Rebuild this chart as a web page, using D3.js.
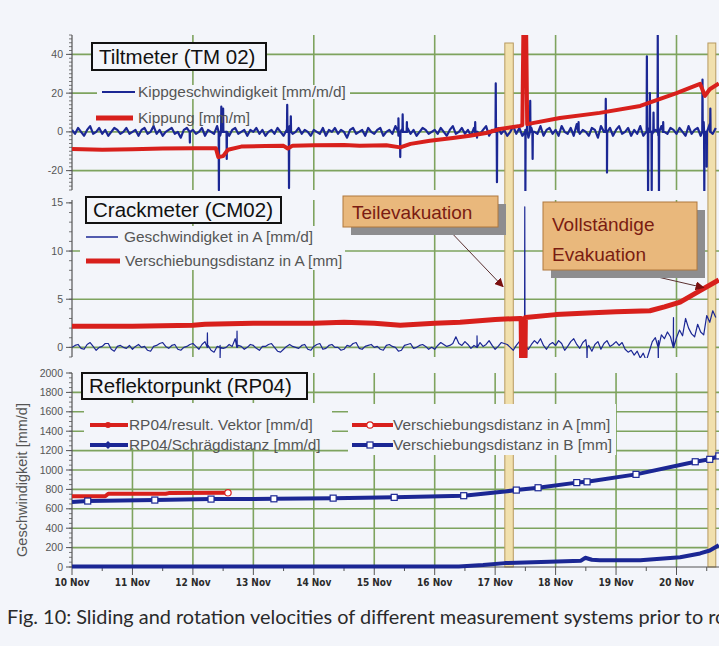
<!DOCTYPE html>
<html><head><meta charset="utf-8">
<script src="https://cdn.jsdelivr.net/npm/d3@7"></script>
<style>body{margin:0;background:#f3f5fa;} svg{display:block;}</style>
</head><body><svg id="c" width="719" height="646"></svg>
<script>
// ---------- DATA ----------
const dayLabels = ["10 Nov","11 Nov","12 Nov","13 Nov","14 Nov","15 Nov","16 Nov","17 Nov","18 Nov","19 Nov","20 Nov","21 Nov"];
const noiseStep = 0.05; // days between samples of the noisy velocity series

// Tiltmeter TM02 - Kippgeschwindigkeit [mm/m/d] (background, sampled every 0.05 d)
const tiltVel = [
  1,-1,2,0,-2,1,3,-1,0,2,-1,1,-2,0,2,1,-1,0,2,-1,
  0,1,-2,1,2,-1,0,3,-1,1,-2,0,1,2,-1,0,-3,1,2,0,
  1,-1,0,2,-2,1,0,-1,3,-2,1,0,-2,1,2,-1,0,1,-2,1,
  0,2,-1,1,-2,0,1,-1,2,0,-2,1,3,-1,0,2,-1,1,0,-2,
  1,0,-1,2,-2,1,0,2,-1,1,0,-3,1,2,-1,0,1,-2,2,0,
  -1,1,2,-2,0,1,-1,3,-2,1,0,2,-1,1,-2,0,2,1,-1,0,
  1,-1,2,0,-2,1,3,-1,0,2,-1,1,-2,2,0,-1,1,3,-2,1,
  0,2,-1,1,-2,0,3,-1,2,-2,1,-3,2,0,-1,3,-2,1,2,-1,
  1,-2,3,0,-1,2,-2,4,-1,1,0,-2,2,1,-3,3,0,-1,2,-2,
  1,3,-1,0,2,-2,1,-1,3,-2,0,2,-1,1,-2,3,0,-1,2,1,
  -1,2,0,-2,3,-1,1,2,-2,5,-3,4,-1,2];
// spikes of the tilt velocity [day, value]
const tiltSpikeDays = [1.95,2.43,2.47,2.50,2.56,3.56,3.59,3.62,5.40,5.43,5.47,5.54,6.67,6.70,7.01,7.03,7.50,7.53,7.58,7.62,8.38,8.83,8.85,9.51,9.53,9.56,9.59,9.62,9.69,9.71,9.78,10.43,10.46,10.50,10.56];
const tiltSpikeVals = [-5.5,-30,13,12,-14,14,-29,8,7,-13,9,5,5,-3,25,-26,-32,8,16,-14,5,17,-21,39,-32,20,-30,10,50,-32,5,27,-32,-18,12];
// Kippung [mm/m]
const tiltDays = [0,0.5,1.0,1.5,2.0,2.38,2.42,2.5,2.58,2.8,3.2,3.5,3.57,3.65,4.0,4.5,4.76,5.2,5.43,5.6,5.92,6.3,6.58,6.85,7.08,7.41,7.45,7.47,7.51,7.53,8.07,8.73,9.4,9.73,10.0,10.22,10.39,10.47,10.55,10.7];
const tiltVals = [-8.8,-9.2,-9.0,-8.6,-8.5,-8.4,-13,-12.5,-9.2,-7.6,-7.3,-7.2,-8.6,-7.1,-6.9,-6.8,-7.2,-6.9,-8.0,-6.2,-4.6,-3.2,-2.0,-0.6,1.5,3.1,3.5,60,60,4.0,7.2,9.8,13.4,17,20,22.7,24.8,18.6,22,25];

// Crackmeter CM02 - Geschwindigkeit in A [mm/d] (every 0.05 d)
const crackVel = [
  0,0.2,0.3,-0.1,-0.2,0.3,0.5,0.1,-0.3,0.0,0.1,0.4,0.4,-0.2,-0.4,0.1,0.2,0.0,-0.1,0.2,
  -0.2,0.1,0.3,0.0,0.1,-0.3,-0.4,0.1,0.2,0.4,0.5,0.1,-0.1,0.2,0.3,-0.2,-0.3,0.0,0.1,0.3,
  0.4,0.1,-0.2,0.3,0.6,0.2,-0.3,-0.5,0.1,0.2,-0.1,0.0,0.3,0.1,0.9,0.2,0.1,-0.2,0.0,0.3,
  0.2,-0.1,-0.3,0.1,0.1,0.3,0.4,0.0,-0.4,-0.5,-0.2,0.1,0.3,0.1,0.0,-0.1,0.2,0.3,-0.2,-0.3,
  0.1,0.3,0.4,-0.2,-0.1,0.2,0.3,0.0,0.0,-0.3,-0.2,0.2,0.1,0.4,0.5,-0.1,-0.2,0.1,0.2,0.3,
  0.0,0.1,-0.2,-0.3,0.2,0.3,0.1,0.0,-0.4,-0.3,0.2,0.3,0.4,-0.1,0.0,0.2,0.3,0.1,-0.2,0.0,
  -0.2,0.2,0.5,0.3,0.1,0.2,0.4,1.1,0.4,0.2,0.6,0.3,-0.1,0.2,0.4,0.5,0.1,0.3,0.7,0.2,
  -0.2,0.1,0.5,0.4,0.3,0.0,-0.3,0.2,0.6,0.8,0.1,-0.2,0.3,0.7,0.4,0.9,0.2,-0.2,0.3,0.5,
  0.2,0.7,0.4,-0.3,0.1,0.6,0.9,0.3,-0.1,0.5,0.8,0.2,-0.4,0.3,0.6,-0.2,0.4,0.7,0.1,0.3,
  0.6,0.2,0.5,-0.2,-0.5,-0.3,-0.8,-0.4,-1.1,-0.6,-1.4,-0.4,0.6,1.0,0.7,1.3,0.9,1.6,1.1,1.4,
  1.0,1.8,1.2,3.0,2.0,1.4,1.1,2.4,1.6,1.3,3.3,2.6,3.8,3.1];
const crackSpikeDays = [2.24,2.45,2.73,6.70,7.49,7.52,8.52,9.70,9.95];
const crackSpikeVals = [1.5,-1.1,1.7,1.2,14.6,-1.0,-1.5,-2.0,3.1];
// Verschiebungsdistanz in A [mm]
const crackDays = [0,1,2,2.2,3,4,4.5,5,5.43,6,6.42,7,7.41,7.43,7.44,7.49,7.50,8,8.62,9,9.56,9.8,10.06,10.39,10.7];
const crackVals = [2.2,2.2,2.3,2.4,2.5,2.5,2.6,2.5,2.3,2.5,2.6,2.9,3.0,3.0,-3,-3,3.1,3.4,3.6,3.7,3.8,4.2,4.7,5.9,7.0];

// Reflektorpunkt RP04
const rpVektorDays = [0,0.55,0.6,1.55,1.6,2.58];            // RP04/result. Vektor [mm/d]
const rpVektorVals = [730,730,755,755,762,765];
const rpSchraegDays = [0,6.4,6.8,7.16,7.9,8.42,8.49,8.6,8.73,9.4,10.06,10.39,10.55,10.7]; // RP04/Schrägdistanz [mm/d]
const rpSchraegVals = [5,5,20,40,55,65,95,75,70,70,100,140,170,225];
const rpBDays = [0,0.26,1.37,2.3,3.34,4.32,5.33,6.48,7.16,7.35,7.71,8.35,8.52,9.33,10.31,10.55,10.7]; // Verschiebungsdistanz in B [mm]
const rpBVals = [670,680,690,700,703,710,718,735,778,793,817,870,878,955,1085,1110,1145];
const rpBMarkerIdx = [1,2,3,4,5,6,7,9,10,11,12,13,14,15,16];

// Evacuation periods (days since 10 Nov)
const bandStart = [7.16,10.52];
const bandEnd   = [7.30,10.65];

// ---------- CHART ----------
const svg = d3.select("#c");
const W = 719, H = 646;
const BG = "#f3f5fa", GRID = "#7ea35e", RED = "#d8201c", BLUE = "#1b2794", AX = "#555";
const FONT = "Liberation Sans, Arial, sans-serif";
const LEG = 15.4;

svg.append("rect").attr("width", W).attr("height", H).attr("fill", BG);

const x = d3.scaleLinear().domain([0, 11]).range([72, 72 + 11 * 60.45]);
const panels = {
  top: {y: d3.scaleLinear().domain([-30, 50]).range([190, 35])},
  mid: {y: d3.scaleLinear().domain([-1, 15.3]).range([357, 200])},
  bot: {y: d3.scaleLinear().domain([0, 2000]).range([567, 373])}
};
const defs = svg.append("defs");
function clip(id, y0, y1) {
  defs.append("clipPath").attr("id", id).append("rect")
    .attr("x", 72).attr("y", y0).attr("width", W - 72).attr("height", y1 - y0);
}
clip("cTop", 35, 191); clip("cMid", 199, 358); clip("cBot", 372, 571);
defs.append("clipPath").attr("id", "lTop").append("rect").attr("x", 0).attr("y", 30).attr("width", 60).attr("height", 159);
defs.append("clipPath").attr("id", "lMid").append("rect").attr("x", 0).attr("y", 200).attr("width", 60).attr("height", 160);
const mk = defs.append("marker").attr("id", "arr").attr("viewBox", "0 0 10 10").attr("refX", 9).attr("refY", 5)
  .attr("markerWidth", 9).attr("markerHeight", 9).attr("orient", "auto-start-reverse").attr("markerUnits", "userSpaceOnUse");
mk.append("path").attr("d", "M0,0L10,5L0,10z").attr("fill", "#7a1010");

const g = svg.append("g");

// gridlines
function hgrid(sc, vals) {
  vals.forEach(v => g.append("line").attr("x1", 72).attr("x2", W).attr("y1", sc(v)).attr("y2", sc(v))
    .attr("stroke", GRID).attr("stroke-width", 1.6));
}
function vgrid(sc, days) {
  const [a, b] = sc.range();
  days.forEach(d => g.append("line").attr("x1", x(d)).attr("x2", x(d)).attr("y1", b).attr("y2", a)
    .attr("stroke", GRID).attr("stroke-width", 1.6));
}
hgrid(panels.top.y, [40, 20, 0, -20]);
vgrid(panels.top.y, [2, 4, 6, 8, 10]);
hgrid(panels.mid.y, [10, 5, 0]);
vgrid(panels.mid.y, [2, 4, 6, 8, 10]);
hgrid(panels.bot.y, d3.range(200, 2000, 200));
vgrid(panels.bot.y, d3.range(1, 11));

// evacuation bands
bandStart.forEach((s, i) => g.append("rect").attr("x", x(s)).attr("width", x(bandEnd[i]) - x(s))
  .attr("y", 43).attr("height", 567 - 43).attr("fill", "#f1e0ad").attr("stroke", "#b89a60").attr("stroke-width", 1));

// y axes
function yaxis(sc, minorStep, majorVals) {
  const [a, b] = sc.domain();
  const ax = g.append("g");
  ax.append("line").attr("x1", 72).attr("x2", 72).attr("y1", sc.range()[0]).attr("y2", sc.range()[1]).attr("stroke", AX).attr("stroke-width", 1.2);
  d3.range(Math.ceil(a / minorStep) * minorStep, b + 1e-9, minorStep).forEach(v =>
    ax.append("line").attr("x1", 69).attr("x2", 72).attr("y1", sc(v)).attr("y2", sc(v)).attr("stroke", AX).attr("stroke-width", 0.8));
  majorVals.forEach(v => {
    ax.append("line").attr("x1", 66).attr("x2", 72).attr("y1", sc(v)).attr("y2", sc(v)).attr("stroke", AX).attr("stroke-width", 1);
    ax.append("text").attr("x", 63).attr("y", sc(v) + 3.5).attr("text-anchor", "end")
      .attr("font-family", FONT).attr("font-size", 10.5).attr("fill", "#555").text(v);
  });
}
yaxis(panels.top.y, 2, [40, 20, 0, -20]);
yaxis(panels.mid.y, 1, [15, 10, 5, 0]);
yaxis(panels.bot.y, 50, d3.range(0, 2001, 200));

// x axis
g.append("line").attr("x1", 72).attr("x2", W).attr("y1", 567).attr("y2", 567).attr("stroke", AX).attr("stroke-width", 1.2);
d3.range(0, 11.01, 0.5).forEach(d => g.append("line").attr("x1", x(d)).attr("x2", x(d)).attr("y1", 567)
  .attr("y2", d % 1 === 0 ? 575 : 571).attr("stroke", AX).attr("stroke-width", 1));
dayLabels.forEach((l, i) => g.append("text").attr("x", x(i)).attr("y", 586).attr("text-anchor", "middle")
  .attr("font-family", "DejaVu Sans Condensed, DejaVu Sans, sans-serif").attr("font-weight", "bold")
  .attr("font-size", 10).attr("fill", "#2a2a2a").text(l));

// y axis titles
g.append("text").attr("clip-path", "url(#lTop)").attr("transform", "translate(37,35) rotate(-90)").attr("text-anchor", "end")
  .attr("font-family", FONT).attr("font-size", 12.5).attr("fill", "#555").text("Geschwindigkeit [mm/m/d]");
g.append("text").attr("clip-path", "url(#lMid)").attr("transform", "translate(40,235) rotate(-90)").attr("text-anchor", "end")
  .attr("font-family", FONT).attr("font-size", 12.5).attr("fill", "#555").text("Geschwindigket [mm/d]");
g.append("text").attr("transform", "translate(27,480) rotate(-90)").attr("text-anchor", "middle")
  .attr("font-family", FONT).attr("font-size", 14.5).attr("fill", "#555").text("Geschwindigkeit [mm/d]");

// helpers for series
function noisySeries(vals, spikeDays, spikeVals) {
  const pts = vals.map((v, i) => [i * noiseStep, v]);
  spikeDays.forEach((d, i) => { pts.push([d - 0.004, 0]); pts.push([d, spikeVals[i]]); pts.push([d + 0.004, 0]); });
  return pts.sort((a, b) => a[0] - b[0]);
}
function draw(clipId, sc, pts, color, w) {
  g.append("path").attr("clip-path", `url(#${clipId})`).datum(pts)
    .attr("d", d3.line().x(d => x(d[0])).y(d => sc(d[1])))
    .attr("fill", "none").attr("stroke", color).attr("stroke-width", w).attr("stroke-linejoin", "round");
}
const zip = (a, b) => a.map((d, i) => [d, b[i]]);

// top panel
draw("cTop", panels.top.y, noisySeries(tiltVel, tiltSpikeDays, tiltSpikeVals), BLUE, 2.2);
draw("cTop", panels.top.y, zip(tiltDays, tiltVals), RED, 4);
// middle panel
draw("cMid", panels.mid.y, noisySeries(crackVel, crackSpikeDays, crackSpikeVals), BLUE, 1.2);
draw("cMid", panels.mid.y, zip(crackDays, crackVals), RED, 5);
// bottom panel
draw("cBot", panels.bot.y, zip(rpSchraegDays, rpSchraegVals), BLUE, 4);
draw("cBot", panels.bot.y, zip(rpVektorDays, rpVektorVals), RED, 4);
const bPts = zip(rpBDays, rpBVals);
draw("cBot", panels.bot.y, bPts, BLUE, 4);
rpBMarkerIdx.forEach(i => g.append("rect").attr("x", x(bPts[i][0]) - 3).attr("y", panels.bot.y(bPts[i][1]) - 3)
  .attr("width", 6).attr("height", 6).attr("fill", "#fff").attr("stroke", BLUE).attr("stroke-width", 1.2));
g.append("circle").attr("cx", x(rpVektorDays[rpVektorDays.length - 1])).attr("cy", panels.bot.y(rpVektorVals[rpVektorVals.length - 1]))
  .attr("r", 3.2).attr("fill", "#fff").attr("stroke", RED).attr("stroke-width", 1.2);

// legends & titles
function bgRect(x0, y0, w, h) { g.append("rect").attr("x", x0).attr("y", y0).attr("width", w).attr("height", h).attr("fill", BG); }
function txt(x0, y0, s, size, fill) {
  return g.append("text").attr("x", x0).attr("y", y0).attr("font-family", FONT).attr("font-size", size).attr("fill", fill || "#555").text(s);
}
function lline(x1, x2, y, color, w) { g.append("line").attr("x1", x1).attr("x2", x2).attr("y1", y).attr("y2", y).attr("stroke", color).attr("stroke-width", w); }
function titleBox(x0, y0, w, h, s) {
  g.append("rect").attr("x", x0).attr("y", y0).attr("width", w).attr("height", h).attr("fill", BG).attr("stroke", "#111").attr("stroke-width", 2);
  txt(x0 + 7, y0 + h - 6, s, 20.5, "#111");
}
// top
bgRect(97, 85, 253, 14);
lline(102, 135, 92, BLUE, 2); txt(138, 97, "Kippgeschwindigkeit [mm/m/d]", LEG);
lline(96, 133, 118, RED, 5); txt(138, 123, "Kippung [mm/m]", LEG);
titleBox(92, 43, 174, 27, "Tiltmeter (TM 02)");
// middle
bgRect(80, 226, 265, 44);
lline(86, 118, 237, BLUE, 1.5); txt(124, 242, "Geschwindigket in A [mm/d]", LEG);
lline(86, 120, 261, RED, 5); txt(125, 266, "Verschiebungsdistanz in A [mm]", LEG);
titleBox(86, 197, 195, 26, "Crackmeter (CM02)");
// bottom
bgRect(84, 403, 248, 45);
bgRect(348, 404, 268, 51);
lline(90, 128, 425, RED, 4); g.append("circle").attr("cx", 108).attr("cy", 425).attr("r", 3).attr("fill", RED);
txt(129, 430, "RP04/result. Vektor [mm/d]", LEG);
lline(90, 128, 445, BLUE, 4); g.append("path").attr("d", "M108,441L112,445L108,449L104,445Z").attr("fill", BLUE);
txt(129, 450, "RP04/Schrägdistanz [mm/d]", LEG);
lline(352, 393, 425, RED, 4); g.append("circle").attr("cx", 370).attr("cy", 425).attr("r", 3.2).attr("fill", "#fff").attr("stroke", RED).attr("stroke-width", 1.2);
txt(393, 430, "Verschiebungsdistanz in A [mm]", LEG);
lline(352, 393, 445, BLUE, 4); g.append("rect").attr("x", 367).attr("y", 442).attr("width", 6).attr("height", 6).attr("fill", "#fff").attr("stroke", BLUE).attr("stroke-width", 1.2);
txt(393, 450, "Verschiebungsdistanz in B [mm]", LEG);
titleBox(82, 373, 225, 26, "Reflektorpunkt (RP04)");

// annotations
function annBox(x0, y0, w, h, lines, dy) {
  g.append("rect").attr("x", x0 + 8).attr("y", y0 + 8).attr("width", w).attr("height", h).attr("fill", "#8d8d8f");
  g.append("rect").attr("x", x0).attr("y", y0).attr("width", w).attr("height", h).attr("fill", "#e9b87c").attr("stroke", "#b0783c").attr("stroke-width", 1);
  lines.forEach((s, i) => txt(x0 + 9, y0 + dy + i * 30, s, 19, "#7a1c12"));
}
g.append("line").attr("x1", 447).attr("y1", 228).attr("x2", x(7.13)).attr("y2", panels.mid.y(6.3))
  .attr("stroke", "#5a3030").attr("stroke-width", 1).attr("marker-end", "url(#arr)");
g.append("line").attr("x1", 636).attr("y1", 272).attr("x2", x(10.45)).attr("y2", panels.mid.y(6.2))
  .attr("stroke", "#5a3030").attr("stroke-width", 1).attr("marker-end", "url(#arr)");
annBox(343, 196, 155, 31, ["Teilevakuation"], 23);
annBox(543, 202, 154, 68, ["Vollständige", "Evakuation"], 29);

// caption
svg.append("text").attr("x", 7).attr("y", 624).attr("font-family", "Lato, 'Open Sans', sans-serif").attr("font-size", 19.9)
  .attr("fill", "#2a2a2a").text("Fig. 10: Sliding and rotation velocities of different measurement systems prior to rockfall");
</script>
</body></html>
